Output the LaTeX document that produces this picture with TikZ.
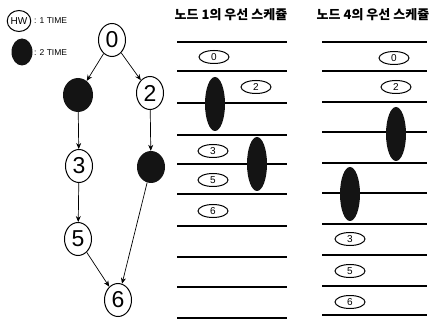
\documentclass[tikz,border=0pt]{standalone}
\usepackage{fontspec}
\setmainfont{Liberation Sans}
\newfontfamily\kr{Noto Sans CJK KR}
\usetikzlibrary{arrows.meta,shapes.geometric}
\tikzset{
  gnode/.style={ellipse, draw, line width=1pt, inner sep=0pt, minimum width=27pt, minimum height=33pt, font=\fontsize{23}{23}\selectfont},
  bnode/.style={ellipse, fill=black!92, inner sep=0pt, minimum width=30pt, minimum height=34pt},
  snode/.style={ellipse, draw, line width=1pt, inner sep=0pt, minimum width=30pt, minimum height=13pt, font=\fontsize{10}{10}\selectfont},
  sblack/.style={ellipse, fill=black!92, inner sep=0pt, minimum width=20pt, minimum height=54pt},
  edge/.style={line width=0.7pt, -{Stealth[length=6pt,width=5pt]}},
  rule/.style={line width=1.2pt},
  title/.style={font=\kr\bfseries\fontsize{13}{13}\selectfont},
  legend/.style={font=\fontsize{8.5}{8.5}\selectfont, anchor=west, inner sep=0pt}
}
\begin{document}
\begin{tikzpicture}[x=1pt, y=-1pt]
\useasboundingbox (0,0) rectangle (447,323);

% legend
\node[ellipse, draw, line width=1pt, inner sep=0pt, minimum width=19pt, minimum height=21pt, font=\fontsize{10}{10}\selectfont] (lgw) at (19,21) {HW};
\node[legend] (lgwt) at (34,21) {: 1 TIME};
\node[ellipse, fill=black!92, inner sep=0pt, minimum width=21pt, minimum height=27pt] (lgb) at (22,52) {};
\node[legend] (lgbt) at (34,53) {: 2 TIME};

% task graph
\node[gnode] (n0) at (112,40) {0};
\node[bnode] (n1) at (78,95) {};
\node[gnode] (n2) at (150,93) {2};
\node[gnode] (n3) at (79,166) {3};
\node[bnode, minimum width=28pt, minimum height=32pt] (n4) at (151,167) {};
\node[gnode] (n5) at (78,239) {5};
\node[gnode] (n6) at (118,300) {6};

\draw[edge] (n0) -- (n1);
\draw[edge] (n0) -- (n2);
\draw[edge] (n1) -- (n3);
\draw[edge] (n3) -- (n5);
\draw[edge] (n2) -- (n4);
\draw[edge] (n5) -- (n6);
\draw[edge] (n4) -- (n6);

% schedule of node 1
\node[title] (t1) at (231,15) {노드 1의 우선 스케쥴};
\foreach \y in {42,71,103,135,164,194,226,257,287,318}
  \draw[rule] (177,\y) -- (287,\y);
\node[snode] (a0) at (214,57) {0};
\node[snode] (a2) at (256,87) {2};
\node[sblack] (a1) at (215,104) {};
\node[snode] (a3) at (213,151) {3};
\node[sblack] (a4) at (257,164) {};
\node[snode] (a5) at (213,180) {5};
\node[snode] (a6) at (213,211) {6};

% schedule of node 4
\node[title] (t2) at (373,15) {노드 4의 우선 스케쥴};
\foreach \y in {42,71,102,132,163,193,224,255,286,315}
  \draw[rule] (322,\y) -- (427,\y);
\node[snode] (b0) at (394,58) {0};
\node[snode] (b2) at (396,87) {2};
\node[sblack] (b1) at (396,134) {};
\node[sblack] (b4) at (350,194) {};
\node[snode] (b3) at (350,239) {3};
\node[snode] (b5) at (350,271) {5};
\node[snode] (b6) at (350,302) {6};
\end{tikzpicture}
\end{document}
